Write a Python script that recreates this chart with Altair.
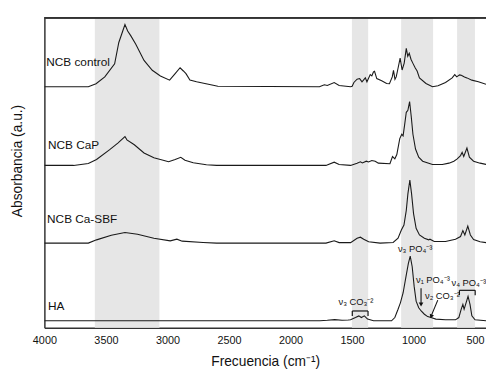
import altair as alt
import pandas as pd

# ---------------- data ----------------
series_names = ["NCB control", "NCB CaP", "NCB Ca-SBF", "HA"]
offsets = [2.45, 1.65, 0.86, 0.07]

control_wn = [4000, 3643, 3580, 3509, 3429, 3395, 3363, 3345, 3323, 3297, 3257, 3190, 3123, 3057,
              2982, 2937, 2897, 2870, 2849, 2817, 2763, 2657, 2590, 1764, 1724, 1700, 1644, 1604,
              1511, 1498, 1484, 1458, 1437, 1418, 1391, 1378, 1351, 1338, 1325, 1316, 1298, 1258,
              1218, 1195, 1172, 1162, 1150, 1140, 1128, 1108, 1092, 1075, 1058, 1046, 1034, 1020,
              1005, 985, 970, 951, 898, 845, 800, 739, 685, 664, 648, 625, 611, 585, 565, 525, 472, 410]
control_val = [0, 0, .03, .10, .233, .45, .567, .633, .567, .517, .433, .267, .167, .11,
               .067, .133, .193, .16, .133, .067, .05, .023, .005, 0, .02, .012, .043, .013,
               0, .005, .043, .077, .083, .05, .09, .05, .123, .11, .15, .157, .083, .06,
               .033, .03, .10, .167, .075, .10, .17, .29, .17, .24, .39, .31, .34, .28,
               .24, .19, .16, .09, .033, 0, .01, .043, .09, .123, .10, .12, .117, .10, .09, .067, .05, .025]

cap_wn = [4000, 3763, 3643, 3576, 3469, 3403, 3345, 3329, 3269, 3190, 3110, 2990, 2937, 2891,
          2857, 2790, 2683, 2600, 1711, 1644, 1604, 1511, 1458, 1431, 1415, 1383, 1365, 1338,
          1311, 1285, 1191, 1170, 1151, 1135, 1111, 1095, 1084, 1071, 1058, 1045, 1031, 1018,
          1004, 983, 957, 925, 845, 765, 711, 671, 644, 617, 604, 591, 565, 545, 511, 458, 410]
cap_val = [0, 0, .02, .06, .16, .227, .293, .26, .21, .127, .077, .037, .06, .083,
           .053, .027, .007, 0, 0, .033, .01, 0, .023, .037, .025, .043, .035, .05,
           .043, .023, .017, .09, .067, .11, .273, .317, .30, .417, .54, .56, .65, .50,
           .317, .167, .083, .043, .01, .01, .023, .043, .067, .10, .133, .09, .177, .083, .043, .023, .01]

sbf_wn = [4000, 3643, 3576, 3456, 3345, 3243, 3110, 2977, 2923, 2880, 2710, 2600, 1711, 1644,
          1604, 1511, 1458, 1431, 1404, 1364, 1271, 1165, 1125, 1098, 1077, 1058, 1045, 1029,
          1015, 999, 978, 951, 911, 876, 866, 831, 739, 658, 617, 598, 582, 558, 537, 511, 458, 410]
sbf_val = [0, 0, .033, .08, .107, .09, .05, .023, .04, .02, .007, 0, 0, .023,
           .005, .005, .05, .06, .04, .013, 0, .007, .05, .133, .183, .333, .50, .64,
           .50, .30, .15, .083, .05, .033, .04, .017, .017, .04, .067, .127, .083, .173, .083, .037, .013, .005]

ha_wn = [4000, 1760, 1700, 1640, 1580, 1530, 1511, 1471, 1444, 1423, 1399, 1373, 1324, 1178,
         1151, 1125, 1106, 1084, 1058, 1041, 1026, 1010, 994, 978, 957, 937, 911, 884, 857,
         818, 739, 658, 631, 612, 598, 588, 556, 540, 525, 499, 410]
ha_val = [0, 0, .005, .012, .005, .008, .01, .033, .05, .033, .05, .017, 0, 0,
          .033, .117, .183, .283, .467, .583, .657, .55, .35, .20, .133, .10, .067, .043, .033,
          .017, .01, .01, .033, .117, .167, .117, .25, .167, .05, .01, 0]

band_start = [3590, 1500, 1100, 645]
band_end = [3065, 1368, 840, 500]

x_ticks = [4000, 3500, 3000, 2500, 2000, 1500, 1000, 500]

label_x = [3985, 3970, 3978, 3970]
label_y = [2.70, 1.86, 1.10, 0.22]

ann_text = ["ν₃ PO₄⁻³", "ν₁ PO₄⁻³", "ν₄ PO₄⁻³", "ν₂ CO₃⁻²", "ν₃ CO₃⁻²"]
ann_x = [986, 842, 690, 906, 1609]
ann_y = [0.80, 0.48, 0.45, 0.32, 0.26]
ann_align = ["center", "center", "left", "left", "left"]

bracket_x1 = [1497, 626]
bracket_x2 = [1369, 498]
bracket_top = [0.17, 0.38]
bracket_bot = [0.12, 0.33]

arrow_x1 = [938, 802]
arrow_y1 = [0.40, 0.28]
arrow_x2 = [938, 852]
arrow_y2 = [0.25, 0.13]
head_x = [938, 856]
head_y = [0.235, 0.115]
head_angle = [180, 202]

# ---------------- build tables ----------------
rows = []
for name, wn, val, off in zip(series_names,
                              [control_wn, cap_wn, sbf_wn, ha_wn],
                              [control_val, cap_val, sbf_val, ha_val],
                              offsets):
    for w, v in zip(wn, val):
        rows.append({"series": name, "wn": w, "a": v + off})
spec_df = pd.DataFrame(rows)

bands_df = pd.DataFrame({"x1": band_start, "x2": band_end})
labels_df = pd.DataFrame({"t": series_names, "x": label_x, "y": label_y})
ann_df = pd.DataFrame({"t": ann_text, "x": ann_x, "y": ann_y, "align": ann_align})
br_df = pd.DataFrame({"x1": bracket_x1, "x2": bracket_x2, "top": bracket_top, "bot": bracket_bot})
ar_df = pd.DataFrame({"x1": arrow_x1, "y1": arrow_y1, "x2": arrow_x2, "y2": arrow_y2})
hd_df = pd.DataFrame({"x": head_x, "y": head_y, "ang": head_angle})

W, H = 449, 315
FONT = "Liberation Sans"
xs = alt.Scale(domain=[4000, 410], nice=False, zero=False)
ys = alt.Scale(domain=[0, 3.15], nice=False, zero=False)

x_axis = alt.Axis(values=x_ticks, format="d", ticks=False, tickSize=0, grid=False,
                  domain=True, domainColor="#333", domainWidth=1.5,
                  labelFont=FONT, labelFontSize=11, labelColor="#111", labelPadding=7,
                  labelFlush=False, labelOverlap=False,
                  titleFont=FONT, titleFontSize=14,
                  titleFontWeight="normal", titleColor="#111", titlePadding=9)
y_axis = alt.Axis(labels=False, ticks=False, grid=False, domain=True,
                  domainColor="#333", domainWidth=1.5,
                  titleFont=FONT, titleFontSize=14,
                  titleFontWeight="normal", titleColor="#111", titlePadding=20, titleY=145)

X_TITLE = "Frecuencia (cm⁻¹)"
Y_TITLE = "Absorbancia (a.u.)"


def xenc(field):
    return alt.X(field, scale=xs, axis=x_axis, title=X_TITLE)


def yenc(field):
    return alt.Y(field, scale=ys, axis=y_axis, title=Y_TITLE)


bands = alt.Chart(bands_df).mark_rect(color="#e6e6e6").encode(
    x=xenc("x1:Q"), x2="x2:Q",
    y=alt.value(0), y2=alt.value(H))

lines = alt.Chart(spec_df).mark_line(color="#1a1a1a", strokeWidth=1.1, clip=True).encode(
    x=xenc("wn:Q"), y=yenc("a:Q"),
    detail="series:N",
    order="wn:Q")

labels = alt.Chart(labels_df).mark_text(align="left", baseline="middle", font=FONT,
                                        fontSize=12, color="#111").encode(
    x=xenc("x:Q"), y=yenc("y:Q"), text="t:N")

ann_center = alt.Chart(ann_df[ann_df["align"] == "center"]).mark_text(
    align="center", baseline="middle", font=FONT, fontSize=9.5, color="#111").encode(
    x=xenc("x:Q"), y=yenc("y:Q"), text="t:N")
ann_left = alt.Chart(ann_df[ann_df["align"] == "left"]).mark_text(
    align="left", baseline="middle", font=FONT, fontSize=9.5, color="#111").encode(
    x=xenc("x:Q"), y=yenc("y:Q"), text="t:N")

br_h = alt.Chart(br_df).mark_rule(color="#111", strokeWidth=1.2).encode(
    x=xenc("x1:Q"), x2="x2:Q", y=yenc("top:Q"))
br_l = alt.Chart(br_df).mark_rule(color="#111", strokeWidth=1.2).encode(
    x=xenc("x1:Q"), y=yenc("top:Q"), y2="bot:Q")
br_r = alt.Chart(br_df).mark_rule(color="#111", strokeWidth=1.2).encode(
    x=xenc("x2:Q"), y=yenc("top:Q"), y2="bot:Q")

arrows = alt.Chart(ar_df).mark_rule(color="#111", strokeWidth=1.1).encode(
    x=xenc("x1:Q"), y=yenc("y1:Q"), x2="x2:Q", y2="y2:Q")
heads = alt.Chart(hd_df).mark_point(shape="triangle-up", filled=True, color="#111",
                                    size=22, opacity=1).encode(
    x=xenc("x:Q"), y=yenc("y:Q"),
    angle=alt.Angle("ang:Q", scale=None))

top_rule = alt.Chart(bands_df).mark_rule(color="#333", strokeWidth=1.5).encode(
    x=alt.value(0), x2=alt.value(W), y=alt.value(0))

chart = alt.layer(bands, lines, labels, ann_center, ann_left, br_h, br_l, br_r,
                  arrows, heads, top_rule).properties(
    width=W, height=H,
    autosize=alt.AutoSizeParams(type="none"),
    padding={"left": 37, "top": 7, "right": 0, "bottom": 42},
    background="white",
).configure_view(stroke=None)

chart.save("out.html", embed_options={"renderer": "svg", "actions": False})
